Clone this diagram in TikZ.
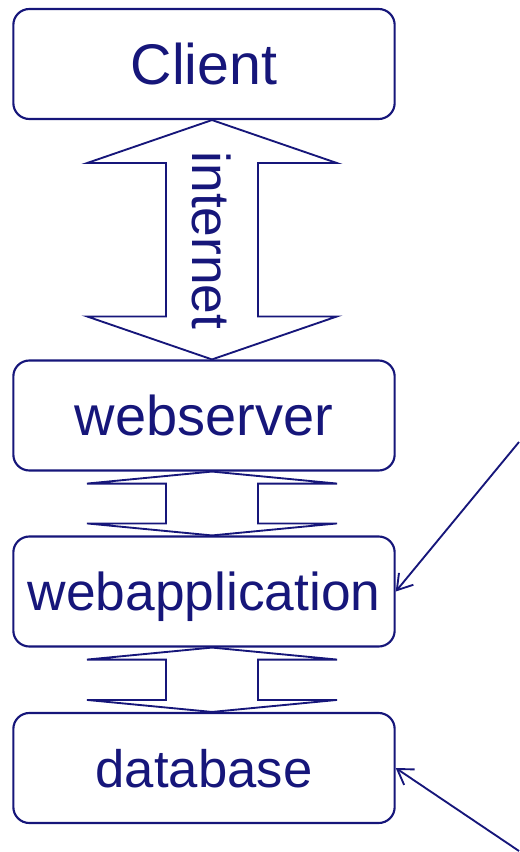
\documentclass[tikz,border=0pt]{standalone}
\usepackage{fontspec}
\setmainfont{Liberation Sans}
\usetikzlibrary{arrows.meta,calc}
\definecolor{navy}{HTML}{16167A}

% fat double arrow between two stacked boxes: #1 upper, #2 lower, #3 head length
\newcommand{\fatarrow}[3]{%
  \draw[fatline] ($(#1.south)+(8,0)$) -- ++(125,#3) -- ++(-79,0)
    -- ($(#2.north)+(54,-#3)$) -- ++(79,0) -- ($(#2.north)+(8,0)$)
    -- ++(-125,-#3) -- ++(79,0) -- ($(#1.south)+(-38,#3)$) -- ++(-79,0) -- cycle;}

\tikzset{
  tier/.style={draw=navy, line width=1.6pt, rounded corners=12pt, text=navy,
    minimum width=286pt, minimum height=82.5pt, inner sep=0pt,
    text height=29pt, text depth=0pt, font=\fontsize{40}{40}\selectfont},
  fatline/.style={navy, line width=1.4pt, line join=miter},
  pointer/.style={navy, line width=1.4pt, -{Straight Barb[length=11pt,width=14pt]}}
}

\begin{document}
\begin{tikzpicture}[x=0.75pt, y=-0.75pt]
  \useasboundingbox (0,0) rectangle (519,852);

  \node[tier, font=\fontsize{43}{43}\selectfont, text height=31pt] (client) at (204,64) {Client};
  \node[tier, font=\fontsize{42}{42}\selectfont, text height=30pt] (webserver) at (204,415.5) {webserver};
  \node[tier] (webapp) at (204,591.5) {webapplication};
  \node[tier, font=\fontsize{39.5}{39.5}\selectfont] (database) at (204,768) {database};

  \fatarrow{client}{webserver}{43}
  \fatarrow{webserver}{webapp}{12}
  \fatarrow{webapp}{database}{12}

  \node[text=navy, rotate=-90, inner sep=0pt, text height=29pt, text depth=0pt,
    font=\fontsize{40}{40}\selectfont] (internet) at (212,240.5) {internet};

  \coordinate (appnote) at (519,442);
  \coordinate (dbnote) at (519,851);
  \draw[pointer] (appnote) -- (webapp.east);
  \draw[pointer] (dbnote) -- (database.east);
\end{tikzpicture}
\end{document}
